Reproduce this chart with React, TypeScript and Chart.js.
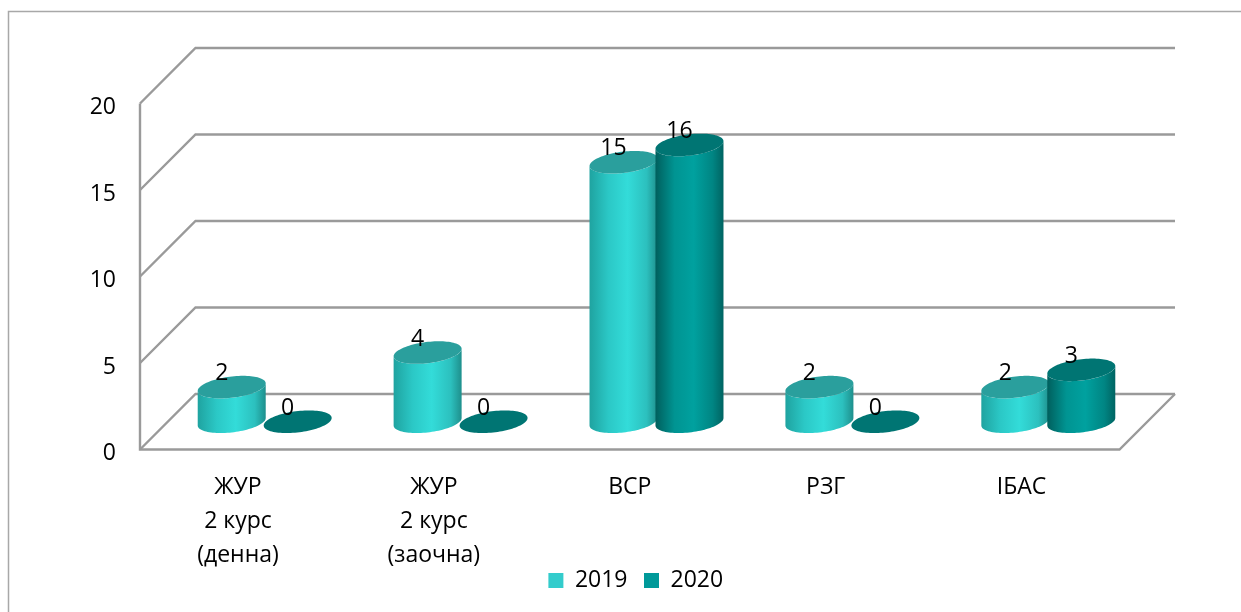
import React, { useEffect, useRef } from "react";
import { Chart, registerables } from "chart.js";

Chart.register(...registerables);

const categories = [
  ["ЖУР", "2 курс", "(денна)"],
  ["ЖУР", "2 курс", "(заочна)"],
  "ВСР",
  "РЗГ",
  "ІБАС",
];
const series2019 = [2, 4, 15, 2, 2];
const series2020 = [0, 0, 16, 0, 3];
const seriesNames = ["2019", "2020"];
const yTicks = [0, 5, 10, 15, 20];

const FONT = "'Open Sans', 'Noto Sans', sans-serif";
const DEPTH = 55.5;
const GRID = "#9a9a9a";

const palettes = [
  { legend: "#33CCCC", top: "#2a9f9d", edgeL: "#1fa3a0", inL: "#2bc8c6", mid: "#33DCD9", inR: "#2cc0be", edgeR: "#1e8f8c" },
  { legend: "#009999", top: "#007573", edgeL: "#005f5d", inL: "#009492", mid: "#00A19F", inR: "#008583", edgeR: "#006462" },
];

function ellipsePoint(cx: number, cy: number, R: number, D: number, t: number) {
  return [cx + R * Math.cos(t) + D * Math.sin(t), cy - D * Math.sin(t)];
}

function traceEllipse(ctx: CanvasRenderingContext2D, cx: number, cy: number, R: number, D: number) {
  ctx.beginPath();
  for (let i = 0; i <= 96; i++) {
    const [x, y] = ellipsePoint(cx, cy, R, D, (i / 96) * Math.PI * 2);
    if (i === 0) ctx.moveTo(x, y);
    else ctx.lineTo(x, y);
  }
  ctx.closePath();
}

function drawCylinder(
  ctx: CanvasRenderingContext2D,
  cx: number,
  baseY: number,
  topY: number,
  halfW: number,
  pal: (typeof palettes)[number]
) {
  const D = 11.3;
  const R = Math.sqrt(halfW * halfW - D * D);
  const t0 = Math.atan2(D, R);
  if (baseY - topY > 0.5) {
    const left = ellipsePoint(cx, topY, R, D, t0 + Math.PI);
    const grad = ctx.createLinearGradient(cx - halfW, 0, cx + halfW, 0);
    grad.addColorStop(0, pal.edgeL);
    grad.addColorStop(0.28, pal.inL);
    grad.addColorStop(0.56, pal.mid);
    grad.addColorStop(0.84, pal.inR);
    grad.addColorStop(1, pal.edgeR);
    ctx.beginPath();
    ctx.moveTo(left[0], left[1]);
    for (let i = 0; i <= 48; i++) {
      const [x, y] = ellipsePoint(cx, baseY, R, D, t0 + Math.PI + (i / 48) * Math.PI);
      ctx.lineTo(x, y);
    }
    for (let i = 48; i >= 0; i--) {
      const [x, y] = ellipsePoint(cx, topY, R, D, t0 + Math.PI + (i / 48) * Math.PI);
      ctx.lineTo(x, y);
    }
    ctx.closePath();
    ctx.fillStyle = grad;
    ctx.fill();
  }
  traceEllipse(ctx, cx, topY, R, D);
  ctx.fillStyle = pal.top;
  ctx.fill();
}

const walls3d = {
  id: "walls3d",
  afterLayout(chart: any) {
    if (chart.legend) {
      chart.legend.left += 6;
      chart.legend.right += 6;
      chart.legend.top -= 10;
      chart.legend.bottom -= 10;
    }
    // the tick labels run past the x scale's fixed box; keep them out of its clip
    chart.scales.x.bottom = chart.height;
  },
  beforeDraw(chart: any) {
    const ctx: CanvasRenderingContext2D = chart.ctx;
    ctx.save();
    ctx.strokeStyle = "#a8a8a8";
    ctx.lineWidth = 1.5;
    ctx.beginPath();
    ctx.moveTo(8.5, chart.height);
    ctx.lineTo(8.5, 11.5);
    ctx.lineTo(chart.width, 11.5);
    ctx.stroke();
    ctx.restore();
  },
  beforeDatasetsDraw(chart: any) {
    const ctx: CanvasRenderingContext2D = chart.ctx;
    const { left, right, bottom, top } = chart.chartArea;
    const yScale = chart.scales.y;
    ctx.save();
    ctx.strokeStyle = GRID;
    ctx.lineWidth = 2.4;
    ctx.lineJoin = "miter";
    for (const v of yTicks) {
      const y = yScale.getPixelForValue(v);
      ctx.beginPath();
      ctx.moveTo(left, y);
      ctx.lineTo(left + DEPTH, y - DEPTH);
      ctx.lineTo(right + DEPTH, y - DEPTH);
      ctx.stroke();
    }
    ctx.beginPath();
    ctx.moveTo(left, top);
    ctx.lineTo(left, bottom);
    ctx.lineTo(right, bottom);
    ctx.lineTo(right + DEPTH, bottom - DEPTH);
    ctx.stroke();
    ctx.restore();
  },
  afterDatasetsDraw(chart: any) {
    const ctx: CanvasRenderingContext2D = chart.ctx;
    ctx.save();
    const shift = DEPTH / 2 - 1;
    const baseShift = DEPTH / 2;
    categories.forEach((_, index) => {
      chart.data.datasets.forEach((ds: any, dsIndex: number) => {
        const bar = chart.getDatasetMeta(dsIndex).data[index];
        drawCylinder(ctx, bar.x + shift, bar.base - baseShift, bar.y - baseShift, 34, palettes[dsIndex]);
      });
    });
    ctx.fillStyle = "#000";
    ctx.font = `23px ${FONT}`;
    ctx.textAlign = "center";
    ctx.textBaseline = "middle";
    categories.forEach((_, index) => {
      chart.data.datasets.forEach((ds: any, dsIndex: number) => {
        const bar = chart.getDatasetMeta(dsIndex).data[index];
        ctx.fillText(String(ds.data[index]), bar.x + shift - 10, bar.y - baseShift - 13.5);
      });
    });
    ctx.restore();
  },
};

export default function App() {
  const ref = useRef<HTMLCanvasElement>(null);
  useEffect(() => {
    const chart = new Chart(ref.current as HTMLCanvasElement, {
      type: "bar",
      data: {
        labels: categories as any,
        datasets: [
          { label: seriesNames[0], data: series2019, backgroundColor: "transparent" },
          { label: seriesNames[1], data: series2020, backgroundColor: "transparent" },
        ],
      },
      options: {
        responsive: false,
        animation: false,
        devicePixelRatio: 1,
        events: [],
        layout: { padding: { top: 103.5, right: 121.5, left: 0, bottom: 0 } },
        datasets: { bar: { categoryPercentage: 132 / 196, barPercentage: 1 } },
        scales: {
          x: {
            grid: { display: false },
            border: { display: false },
            ticks: {
              color: "#000",
              padding: 13,
              maxRotation: 0,
              autoSkip: false,
              font: { family: FONT, size: 23, lineHeight: 34 / 23 },
            },
            afterFit: (s: any) => {
              s.height = 113;
            },
          },
          y: {
            min: 0,
            max: 20,
            grid: { display: false },
            border: { display: false },
            afterBuildTicks: (s: any) => {
              s.ticks = yTicks.map((value) => ({ value }));
            },
            ticks: {
              color: "#000",
              padding: 16,
              labelOffset: 4,
              font: { family: FONT, size: 23 },
            },
            afterFit: (s: any) => {
              s.width = 140;
            },
          },
        },
        plugins: {
          title: { display: false },
          tooltip: { enabled: false },
          legend: {
            position: "bottom",
            fullSize: false,
            labels: {
              color: "#000",
              boxWidth: 15,
              boxHeight: 15,
              padding: 16.5,
              font: { family: FONT, size: 23 },
              generateLabels: () =>
                seriesNames.map((text, i) => ({
                  text,
                  fillStyle: palettes[i].legend,
                  strokeStyle: palettes[i].legend,
                  lineWidth: 0,
                  datasetIndex: i,
                })),
            },
          },
        },
      },
      plugins: [walls3d],
    } as any);
    return () => chart.destroy();
  }, []);
  return (
    <div style={{ position: "fixed", left: 0, top: 0, width: 1241, height: 612, background: "#fff" }}>
      <canvas ref={ref} width={1241} height={612} style={{ display: "block" }} />
    </div>
  );
}
